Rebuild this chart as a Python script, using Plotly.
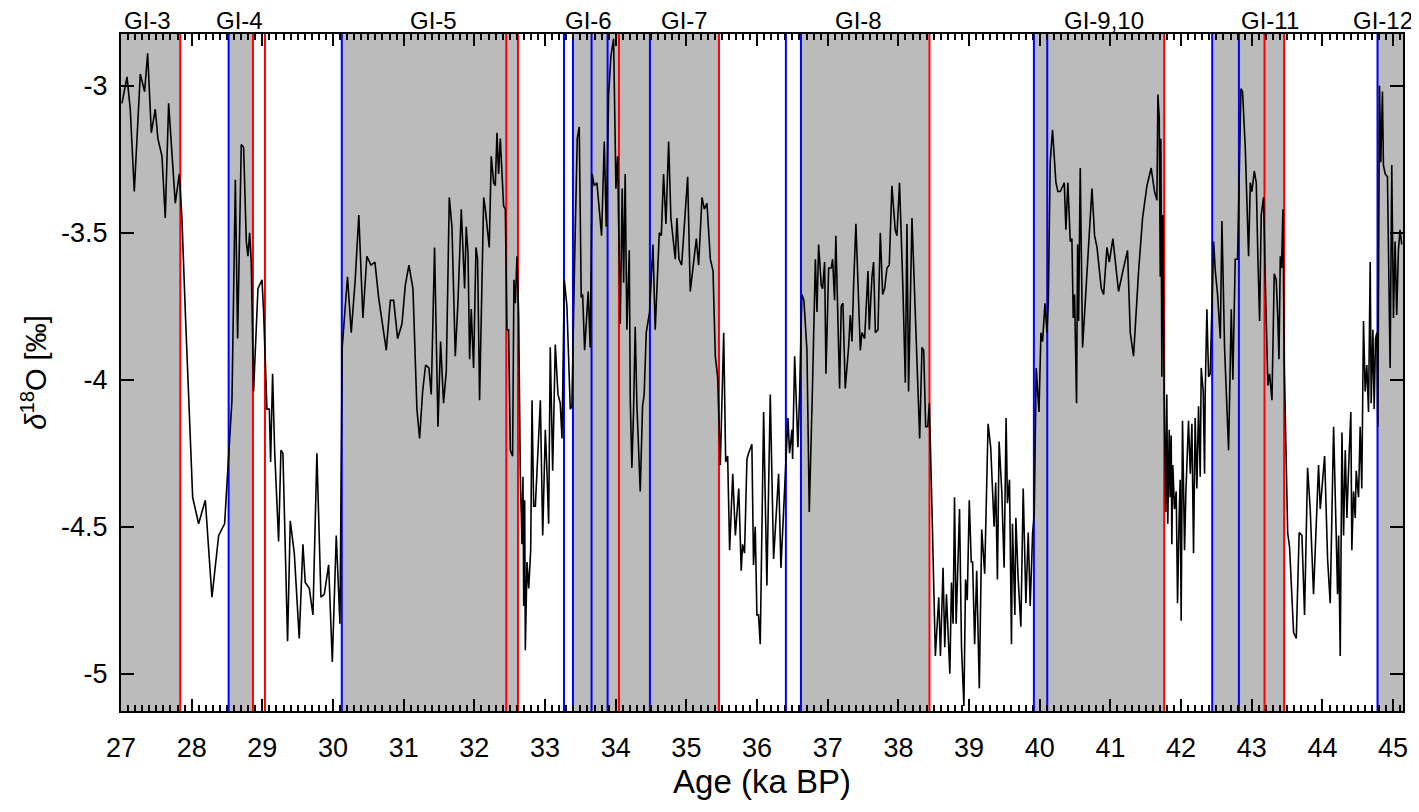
import plotly.graph_objects as go

# ---- data ----
age = [
27.013, 27.085, 27.131, 27.188, 27.273, 27.334, 27.377, 27.429, 27.485, 27.522, 27.580, 27.626, 27.674, 27.721, 27.768, 27.825, 27.862, 27.910, 27.957, 28.014,
28.098, 28.193, 28.287, 28.382, 28.466, 28.523, 28.570, 28.618, 28.650, 28.702, 28.735, 28.773, 28.796, 28.820, 28.843, 28.876, 28.938, 28.995, 29.018, 29.065,
29.099, 29.117, 29.145, 29.174,
29.230, 29.263, 29.291, 29.357, 29.395, 29.452, 29.522, 29.574, 29.607, 29.664, 29.716, 29.772, 29.829, 29.876, 29.938, 29.990, 30.046, 30.098, 30.130, 30.205,
30.258, 30.314, 30.365, 30.423, 30.479, 30.537, 30.593, 30.645, 30.754, 30.811, 30.858, 30.914, 30.976, 31.022, 31.074, 31.131, 31.187, 31.225, 31.268, 31.310,
31.357,
31.390, 31.437, 31.485, 31.522, 31.564, 31.603, 31.645, 31.683, 31.730, 31.767, 31.815, 31.862, 31.885, 31.910, 31.933, 31.956, 31.989, 32.023, 32.046, 32.074,
32.132, 32.155, 32.211, 32.239, 32.273, 32.296, 32.320, 32.343, 32.367, 32.390, 32.414, 32.438, 32.461, 32.484, 32.509, 32.541, 32.560, 32.580, 32.603, 32.627,
32.650, 32.674, 32.688, 32.698, 32.712, 32.721, 32.745, 32.769, 32.797, 32.816, 32.839, 32.863, 32.934, 32.967, 33.004, 33.027, 33.051, 33.074, 33.108, 33.145,
33.183, 33.215, 33.240, 33.273, 33.310, 33.357, 33.380, 33.418, 33.456, 33.484, 33.512, 33.532, 33.560,
33.611, 33.639, 33.667, 33.696, 33.734, 33.800, 33.838, 33.866, 33.900, 33.932, 33.970, 34.003, 34.027, 34.064, 34.092, 34.112, 34.134, 34.158, 34.192, 34.206,
34.229, 34.252, 34.276, 34.299, 34.347, 34.380, 34.403, 34.432, 34.479, 34.527, 34.559, 34.617, 34.645, 34.677, 34.711, 34.749, 34.781, 34.843, 34.866, 34.895,
34.933, 35.018, 35.055, 35.141, 35.173, 35.221, 35.254, 35.291, 35.339, 35.377, 35.409, 35.442, 35.480, 35.504, 35.528, 35.556, 35.584, 35.612, 35.656, 35.693,
35.741,
35.776, 35.795, 35.823, 35.857, 35.880, 35.927, 35.950, 35.974, 35.998, 36.021, 36.045, 36.093, 36.139, 36.187, 36.234, 36.305, 36.338, 36.400, 36.437, 36.460,
36.494, 36.503, 36.532, 36.578, 36.602, 36.634, 36.663, 36.706, 36.739, 36.786, 36.825, 36.848, 36.871, 36.909, 36.928, 36.956, 36.975, 37.013, 37.050, 37.069,
37.097, 37.115, 37.168, 37.191, 37.215, 37.248, 37.295, 37.319, 37.343, 37.366, 37.399, 37.461, 37.484, 37.522, 37.570, 37.588, 37.626, 37.649, 37.674, 37.711,
37.744, 37.777, 37.805, 37.838, 37.871, 37.908,
37.955, 37.979, 38.016, 38.064, 38.098, 38.121, 38.144, 38.192, 38.240, 38.301, 38.334, 38.358, 38.386, 38.415, 38.438, 38.452, 38.477, 38.523, 38.571, 38.595,
38.632, 38.656, 38.680, 38.728, 38.751, 38.774, 38.794, 38.817, 38.865, 38.893, 38.927, 38.950, 38.974, 39.003, 39.031, 39.050, 39.079, 39.108, 39.145, 39.179,
39.221, 39.269, 39.306, 39.354, 39.377, 39.401, 39.425, 39.463, 39.496, 39.524, 39.543, 39.572, 39.600, 39.614, 39.648, 39.662, 39.695, 39.733, 39.766, 39.804,
39.837, 39.865, 39.899, 39.922, 39.950, 39.989, 40.017, 40.040, 40.074, 40.102, 40.121,
40.148, 40.181, 40.229, 40.257, 40.290, 40.323, 40.347, 40.370, 40.398, 40.432, 40.455, 40.474, 40.493, 40.521, 40.536, 40.550, 40.573, 40.606, 40.668, 40.739,
40.776, 40.810, 40.871, 40.904, 40.951, 40.984, 41.035, 41.068, 41.115, 41.177, 41.242, 41.281, 41.327, 41.399, 41.455, 41.517, 41.577, 41.624, 41.658, 41.672,
41.691, 41.705, 41.714, 41.728, 41.742, 41.761, 41.784, 41.798, 41.812, 41.832, 41.846, 41.860, 41.869, 41.883, 41.907, 41.931, 41.950, 41.973, 41.987, 42.001,
42.020, 42.049, 42.068, 42.105, 42.130, 42.153, 42.176, 42.199, 42.223, 42.247, 42.271, 42.285, 42.313, 42.332,
42.341, 42.365, 42.389, 42.412, 42.436, 42.460, 42.484, 42.516, 42.555, 42.578, 42.615, 42.672, 42.710, 42.733, 42.766, 42.799, 42.847, 42.870, 42.908, 42.932,
42.955, 42.979, 43.002, 43.036, 43.064, 43.087, 43.111, 43.134, 43.167, 43.190, 43.228, 43.252, 43.286, 43.318, 43.346, 43.370, 43.385, 43.404, 43.422, 43.441,
43.460, 43.508, 43.535, 43.592, 43.630, 43.671, 43.710, 43.747, 43.790, 43.827, 43.874, 43.945, 43.969, 44.031, 44.073, 44.110, 44.158, 44.195, 44.214, 44.229,
44.252, 44.276, 44.299, 44.323, 44.346, 44.369, 44.402, 44.416, 44.440, 44.464, 44.478, 44.511,
44.534, 44.557, 44.581, 44.605, 44.628, 44.652, 44.676, 44.690, 44.714, 44.732, 44.751, 44.770, 44.784, 44.807, 44.826, 44.849, 44.863, 44.888, 44.920, 44.958,
44.981, 45.005, 45.028, 45.051, 45.075, 45.098, 45.122,
]

d18o = [
-3.06, -2.97, -3.08, -3.36, -2.96, -3.02, -2.89, -3.16, -3.08, -3.18, -3.24, -3.45, -3.06, -3.24, -3.40, -3.30, -3.45, -3.77, -4.08, -4.40,
-4.49, -4.41, -4.74, -4.53, -4.49, -4.27, -4.07, -3.32, -3.86, -3.20, -3.21, -3.53, -3.58, -3.50, -3.60, -4.04, -3.69, -3.66, -3.77, -4.10,
-4.10, -4.28, -3.98, -4.24,
-4.55, -4.24, -4.25, -4.89, -4.48, -4.59, -4.88, -4.56, -4.69, -4.71, -4.80, -4.25, -4.74, -4.73, -4.63, -4.96, -4.53, -4.83, -3.89, -3.65,
-3.84, -3.66, -3.44, -3.79, -3.58, -3.61, -3.60, -3.72, -3.90, -3.73, -3.73, -3.86, -3.81, -3.68, -3.61, -3.69, -4.10, -4.20, -4.04, -3.95,
-3.96,
-4.05, -3.55, -4.16, -3.87, -4.08, -3.97, -3.38, -3.48, -3.92, -3.74, -3.42, -3.69, -3.48, -3.57, -3.93, -3.76, -3.96, -3.55, -3.59, -4.07,
-3.38, -3.42, -3.55, -3.24, -3.33, -3.34, -3.16, -3.30, -3.18, -3.30, -3.41, -3.42, -3.83, -3.83, -4.24, -4.26, -3.66, -3.74, -3.58, -3.78,
-4.32, -4.56, -4.33, -4.77, -4.41, -4.92, -4.62, -4.71, -4.58, -4.07, -4.43, -4.43, -4.07, -4.53, -4.17, -4.31, -4.49, -3.89, -4.31, -3.88,
-4.05, -4.08, -4.20, -3.66, -3.75, -4.10, -4.09, -3.60, -3.18, -3.14, -3.72, -3.71, -3.90,
-3.70, -3.89, -3.30, -3.34, -3.33, -3.51, -3.19, -3.48, -3.03, -2.90, -2.84, -3.35, -3.24, -3.81, -3.35, -3.67, -3.30, -3.83, -3.56, -4.07,
-4.30, -4.11, -3.82, -4.08, -4.38, -4.09, -4.05, -3.84, -3.77, -3.54, -3.83, -3.50, -3.51, -3.30, -3.47, -3.19, -3.45, -3.59, -3.45, -3.59,
-3.61, -3.31, -3.70, -3.52, -3.61, -3.38, -3.42, -3.40, -3.59, -3.63, -3.92, -3.99, -4.29, -4.08, -3.84, -4.28, -4.26, -4.58, -4.32, -4.53,
-4.37,
-4.65, -4.56, -4.59, -4.27, -4.25, -4.22, -4.63, -4.50, -4.80, -4.80, -4.90, -4.11, -4.70, -4.05, -4.61, -4.32, -4.64, -4.31, -4.13, -4.25,
-4.17, -4.27, -3.92, -4.23, -4.05, -3.71, -3.73, -3.90, -4.45, -4.01, -3.59, -3.77, -3.54, -3.68, -3.69, -3.60, -3.98, -3.62, -3.62, -3.59,
-3.73, -3.51, -4.03, -3.75, -3.74, -4.03, -3.89, -3.78, -3.87, -3.68, -3.47, -3.90, -3.84, -3.86, -3.63, -3.83, -3.65, -3.60, -3.84, -3.83,
-3.50, -3.71, -3.69, -3.62, -3.61, -3.34,
-3.49, -3.51, -3.33, -3.69, -4.01, -3.47, -4.04, -3.45, -3.77, -4.20, -3.89, -3.90, -4.16, -4.16, -4.08, -4.25, -4.46, -4.94, -4.74, -4.94,
-4.64, -4.91, -4.73, -5.00, -4.69, -4.83, -4.40, -4.83, -4.44, -4.91, -5.11, -4.68, -4.75, -4.41, -4.62, -4.62, -4.90, -4.65, -5.05, -4.51,
-4.66, -4.15, -4.23, -4.50, -4.35, -4.68, -4.21, -4.38, -4.64, -4.13, -4.42, -4.34, -4.90, -4.49, -4.80, -4.47, -4.68, -4.84, -4.37, -4.76,
-4.52, -4.77, -4.52, -4.46, -3.96, -4.11, -3.84, -3.87, -3.74, -3.84, -3.74,
-3.26, -3.15, -3.33, -3.36, -3.36, -3.34, -3.33, -3.49, -3.33, -3.53, -3.52, -3.79, -3.71, -4.08, -3.54, -3.80, -3.28, -3.89, -3.64, -3.35,
-3.51, -3.55, -3.69, -3.71, -3.55, -3.60, -3.52, -3.60, -3.70, -3.63, -3.56, -3.84, -3.92, -3.63, -3.45, -3.34, -3.28, -3.36, -3.39, -3.03,
-3.11, -3.65, -3.18, -3.99, -3.44, -4.05, -4.45, -4.05, -4.49, -4.17, -4.40, -4.19, -4.56, -4.29, -4.44, -4.38, -4.76, -4.46, -4.34, -4.82,
-4.14, -4.58, -4.38, -4.14, -4.32, -4.15, -4.59, -4.13, -4.37, -4.09, -4.33, -3.96, -4.04, -4.32,
-4.05, -3.76, -3.99, -3.98, -3.78, -3.53, -3.63, -3.71, -3.86, -3.46, -3.89, -4.24, -3.76, -4.00, -3.59, -3.59, -3.01, -3.02, -3.21, -3.44,
-3.58, -3.33, -3.36, -3.29, -3.33, -3.59, -3.80, -3.44, -3.38, -3.65, -4.02, -3.98, -4.07, -3.64, -3.66, -3.80, -3.93, -3.58, -3.62, -3.42,
-3.95, -4.52, -4.57, -4.86, -4.88, -4.52, -4.53, -4.80, -4.30, -4.44, -4.73, -4.29, -4.44, -4.26, -4.61, -4.76, -4.16, -4.53, -4.73, -4.53,
-4.94, -4.18, -4.53, -4.24, -4.47, -4.31, -4.11, -4.58, -4.38, -4.47, -4.31, -4.40,
-4.16, -4.37, -3.80, -4.04, -3.95, -4.11, -3.60, -4.08, -3.83, -4.10, -3.86, -3.84, -4.16, -3.00, -3.26, -3.02, -3.27, -3.30, -3.31, -3.96,
-3.27, -3.79, -3.53, -3.78, -3.56, -3.49, -3.54,
]

# Greenland interstadials (shaded), start / end ages
gi_start = [27.0, 28.523, 30.124, 33.395, 36.621, 39.917, 42.440, 44.779]
gi_end = [27.839, 28.867, 32.617, 35.461, 38.440, 41.761, 43.458, 45.14]

red_lines = [27.839, 28.867, 29.037, 32.451, 32.617, 34.046, 35.461, 38.440, 41.761, 43.180, 43.458]
blue_lines = [28.523, 30.124, 33.268, 33.395, 33.658, 33.885, 34.484, 36.408, 36.621, 39.917, 40.106, 42.440, 42.818, 44.779]

gi_labels = ["GI-3", "GI-4", "GI-5", "GI-6", "GI-7", "GI-8", "GI-9,10", "GI-11", "GI-12"]
gi_label_age = [27.38, 28.67, 31.42, 33.61, 34.98, 37.43, 40.91, 43.26, 44.86]

x_range = [27.0, 45.14]
y_range = [-5.127, -2.824]
y_ticks = [-5, -4.5, -4, -3.5, -3]
y_ticktext = ["-5", "-4.5", "-4", "-3.5", "-3"]

FONT = "Liberation Sans, Arial, sans-serif"

fig = go.Figure()

shapes = []
for s, e in zip(gi_start, gi_end):
    shapes.append(dict(type="rect", xref="x", yref="paper", x0=s, x1=e, y0=0, y1=1,
                       fillcolor="#BBBBBB", line=dict(width=0), layer="below"))
for xv in red_lines:
    shapes.append(dict(type="line", xref="x", yref="paper", x0=xv, x1=xv, y0=0, y1=1,
                       line=dict(color="#FF0000", width=2), layer="below"))
for xv in blue_lines:
    shapes.append(dict(type="line", xref="x", yref="paper", x0=xv, x1=xv, y0=0, y1=1,
                       line=dict(color="#0000FF", width=2), layer="below"))

fig.add_trace(go.Scatter(x=age, y=d18o, mode="lines",
                         line=dict(color="black", width=1.6), showlegend=False,
                         hoverinfo="x+y"))

annotations = []
for lab, xa in zip(gi_labels, gi_label_age):
    annotations.append(dict(x=xa, y=1, xref="x", yref="paper", text=lab, showarrow=False,
                            yanchor="middle", yshift=14, font=dict(family=FONT, size=24, color="black")))

# the page body adds an 8 px offset, so the figure is sized to fill the rest of the window
fig.update_layout(
    width=1411, height=804,
    margin=dict(l=113, r=16, t=26, b=101, autoexpand=False),
    paper_bgcolor="white", plot_bgcolor="white",
    shapes=shapes, annotations=annotations,
    font=dict(family=FONT, color="black"),
    showlegend=False,
)

fig.update_xaxes(
    range=x_range, tickmode="linear", tick0=27, dtick=1, automargin=False,
    ticks="inside", ticklen=12, tickwidth=2, tickcolor="black",
    minor=dict(dtick=0.1, ticks="inside", ticklen=6, tickwidth=1.5, tickcolor="black", showgrid=False),
    showline=True, linecolor="black", linewidth=2, mirror="ticks",
    showgrid=False, zeroline=False,
    tickfont=dict(family=FONT, size=27, color="black"),
    ticklabelstandoff=12,
    title=dict(text="Age (ka BP)", font=dict(family=FONT, size=33, color="black"), standoff=4),
)
fig.update_yaxes(
    range=y_range, tickmode="array", tickvals=y_ticks, ticktext=y_ticktext, automargin=False,
    ticks="inside", ticklen=13, tickwidth=2, tickcolor="black",
    showline=True, linecolor="black", linewidth=2, mirror="ticks",
    showgrid=False, zeroline=False,
    tickfont=dict(family=FONT, size=27, color="black"),
    ticklabelstandoff=6,
    title=dict(text="<i>δ</i><sup>18</sup>O [‰]", font=dict(family=FONT, size=29, color="black"), standoff=6),
)

fig.write_html("out.html")
